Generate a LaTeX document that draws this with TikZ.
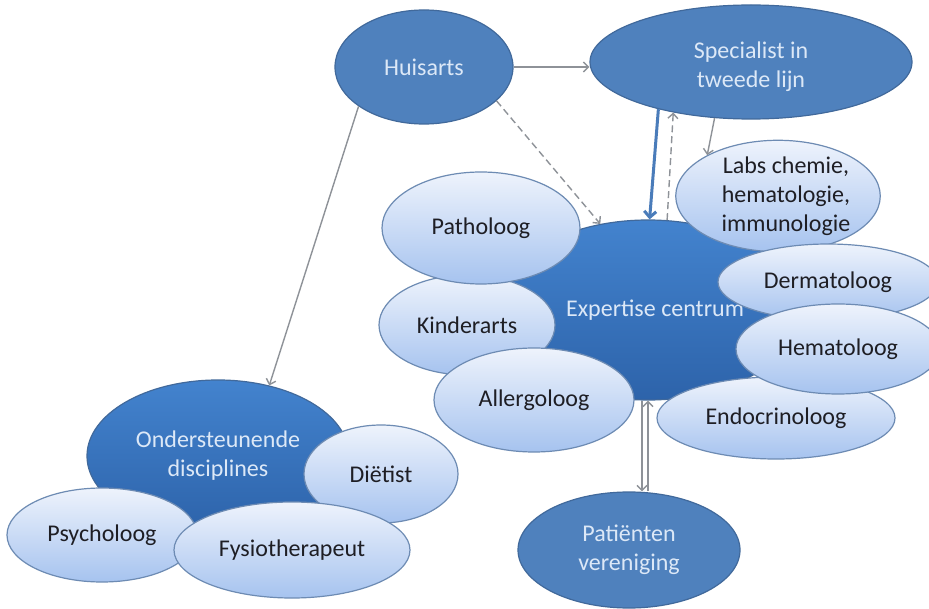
\documentclass[tikz,border=0pt]{standalone}
\usepackage{fontspec}
\setmainfont{Carlito}
\usetikzlibrary{shapes.geometric,arrows.meta,calc}
\definecolor{darkfill}{HTML}{4F81BD}
\definecolor{darkline}{HTML}{41699B}
\definecolor{deeptop}{HTML}{4383CE}
\definecolor{deepbot}{HTML}{2D63AA}
\definecolor{lighttop}{HTML}{EEF3FC}
\definecolor{lightbot}{HTML}{A6C3EF}
\definecolor{lightline}{HTML}{6D8BB3}
\definecolor{darktext}{HTML}{DCE8F7}
\definecolor{lighttext}{HTML}{1E1E24}
\definecolor{arrgray}{HTML}{8E9298}
\definecolor{arrblue}{HTML}{4A7CBA}
\begin{document}
\begin{tikzpicture}[x=1pt,y=-1pt,
  font=\fontsize{24}{29}\selectfont,
  el/.style n args={2}{ellipse, minimum width=#1pt, minimum height=#2pt, inner sep=0pt, align=center, line width=1.2pt},
  darknode/.style={fill=darkfill, draw=darkline, text=darktext},
  deepnode/.style={top color=deeptop, bottom color=deepbot, draw=darkline, text=darktext},
  lightnode/.style={top color=lighttop, bottom color=lightbot, draw=lightline, text=lighttext},
  conn/.style={draw=arrgray, line width=1.4pt, -{Straight Barb[length=5pt,width=10pt]}},
  dconn/.style={conn, dash pattern=on 7pt off 4pt},
  bconn/.style={draw=arrblue, line width=3pt, -{Straight Barb[length=6pt,width=12pt]}}
]
\useasboundingbox (0,0) rectangle (929,609);
\fill[white] (0,0) rectangle (929,609);

% top nodes
\node[el={178}{114}, darknode] (hu) at (424,67) {Huisarts};
\node[el={322}{114}, darknode] (sp) at (751,62) {\rule{0pt}{26pt}Specialist in\\tweede lijn};

% expertise cluster
\node[el={304}{180}, deepnode] (ex) at (648,310) {\hspace*{14pt}Expertise centrum};
\node[el={184}{104}, lightnode] (lab) at (778,196) {\hspace*{16pt}Labs chemie,\\\hspace*{16pt}hematologie,\\\hspace*{16pt}immunologie};
\node[el={220}{76}, lightnode] (der) at (828,282) {Dermatoloog};
\node[el={238}{82}, lightnode] (end) at (776,418) {Endocrinoloog};
\node[el={204}{90}, lightnode] (hem) at (838,349) {Hematoloog};
\node[el={176}{100}, lightnode] (kin) at (467,325) {Kinderarts};
\node[el={198}{112}, lightnode] (pat) at (481,228) {Patholoog};
\node[el={200}{104}, lightnode] (all) at (534,400) {Allergoloog};

% patient association
\node[el={222}{116}, darknode] (pa) at (629,550) {Patiënten\\vereniging};

% supporting disciplines
\node[el={262}{152}, deepnode] (ond) at (218,456) {Ondersteunende\\disciplines};
\node[el={154}{98}, lightnode] (die) at (381,474) {Diëtist};
\node[el={190}{94}, lightnode] (psy) at (102,535) {Psycholoog};
\node[el={236}{96}, lightnode] (fys) at (292,550) {Fysiotherapeut};

% connectors
\draw[conn] (hu.east) -- (hu.east -| sp.west);
\draw[dconn] (hu.-25) -- (ex.119);
\draw[conn] (hu.-149) -- (ond.54);
\draw[bconn] (sp.-153) -- (ex.89);
\draw[dconn] (ex.78) -- (sp.-147);
\draw[conn] (sp.-123) -- (lab.150);
\draw[conn] ([xshift=-6pt]ex.south) -- ([xshift=-6pt]ex.south |- pa.north);
\draw[conn] ([xshift=0pt]ex.south |- pa.north) -- ([xshift=0pt]ex.south);
\end{tikzpicture}
\end{document}
